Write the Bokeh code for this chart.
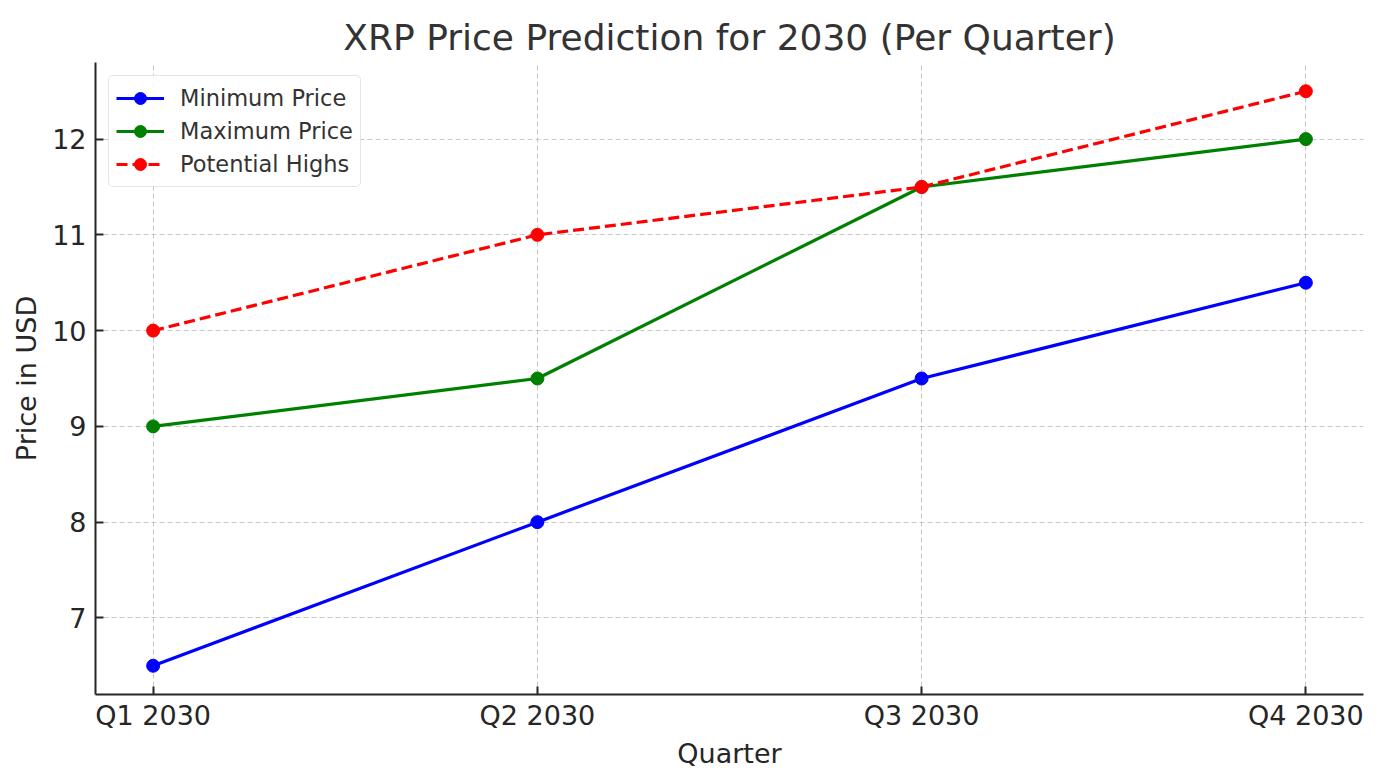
from bokeh.plotting import figure
from bokeh.models import FixedTicker, Range1d
from bokeh.embed import file_html
from bokeh.resources import INLINE

quarters = ["Q1 2030", "Q2 2030", "Q3 2030", "Q4 2030"]
min_price = [6.5, 8.0, 9.5, 10.5]
max_price = [9.0, 9.5, 11.5, 12.0]
potential_highs = [10.0, 11.0, 11.5, 12.5]
y_ticks = [7, 8, 9, 10, 11, 12]

xs = list(range(len(quarters)))
FONT = "DejaVu Sans"

p = figure(width=1394, height=776, output_backend="svg", toolbar_location=None,
           x_range=Range1d(-0.15, 3.15), y_range=Range1d(6.2, 12.8),
           min_border_left=95, min_border_right=31, min_border_top=62, min_border_bottom=82)

p.title.text = "XRP Price Prediction for 2030 (Per Quarter)"
p.title.align = "center"
p.title.text_font = FONT
p.title.text_font_size = "36px"
p.title.text_font_style = "normal"
p.title.text_color = "#333333"

p.outline_line_color = None
p.background_fill_color = "white"
p.border_fill_color = "white"

series = [
    ("Minimum Price", min_price, "blue", "solid"),
    ("Maximum Price", max_price, "green", "solid"),
    ("Potential Highs", potential_highs, "red", "11 5"),
]
for label, ys, color, dash in series:
    p.line(xs, ys, line_color=color, line_width=3.2, line_dash=dash, legend_label=label)
    p.scatter(xs, ys, marker="circle", size=13, fill_color=color, line_color=color, legend_label=label)

for ax in (p.xaxis, p.yaxis):
    ax.axis_line_color = "#262626"
    ax.axis_line_width = 2
    ax.major_tick_line_color = "#262626"
    ax.major_tick_line_width = 2
    ax.major_tick_in = 8
    ax.major_tick_out = 0
    ax.minor_tick_line_color = None
    ax.major_label_text_font = FONT
    ax.major_label_text_font_size = "27px"
    ax.major_label_text_color = "#262626"
    ax.axis_label_text_font = FONT
    ax.axis_label_text_font_size = "27px"
    ax.axis_label_text_font_style = "normal"
    ax.axis_label_text_color = "#262626"

p.xaxis.ticker = FixedTicker(ticks=xs)
p.xaxis.major_label_overrides = {i: q for i, q in enumerate(quarters)}
p.yaxis.ticker = FixedTicker(ticks=y_ticks)
p.xaxis.axis_label = "Quarter"
p.yaxis.axis_label = "Price in USD"
p.xaxis.major_label_standoff = 5
p.yaxis.major_label_standoff = 9
p.xaxis.axis_label_standoff = 4
p.yaxis.axis_label_standoff = 7

for g in (p.xgrid, p.ygrid):
    g.grid_line_color = "#c8c8c8"
    g.grid_line_dash = "5 3"
    g.grid_line_width = 1.1

lg = p.legend[0]
lg.location = "top_left"
lg.margin = 13
lg.padding = 7
lg.spacing = 3
lg.glyph_width = 48
lg.glyph_height = 30
lg.label_standoff = 16
lg.label_text_font = FONT
lg.label_text_font_size = "22.5px"
lg.label_text_color = "#333333"
lg.border_line_color = "#cccccc"
lg.border_line_width = 1.5
lg.border_radius = 5
lg.background_fill_alpha = 0.85

open("out.html", "w").write(file_html(p, INLINE))
